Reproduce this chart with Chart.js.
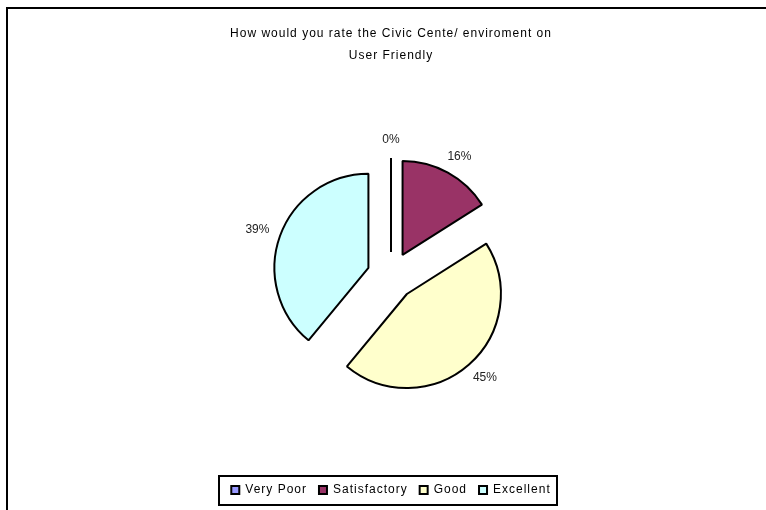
<!DOCTYPE html>
<html>
<head>
<meta charset="utf-8">
<script src="https://cdn.jsdelivr.net/npm/chart.js@4.4.1/dist/chart.umd.min.js"></script>
<style>
    html, body { margin: 0; padding: 0; background: #fff; overflow: hidden; }
    canvas { display: block; }
</style>
</head>
<body>
<canvas id="torta" width="766" height="510"></canvas>
<script>
// ─────────────────────────────────────────────
//  Encuesta Civic Centre – torta explotada
// ─────────────────────────────────────────────

const categorias  = ['Very Poor', 'Satisfactory', 'Good', 'Excellent'];
const porcentajes = [0, 16, 45, 39];
const colores     = ['#9999FF', '#993366', '#FFFFCC', '#CCFFFF'];
const titulo      = ['How would you rate the Civic Cente/ enviroment on', 'User Friendly'];

const RADIO     = 94;   // radio de cada porción (px)
const EXPLOSION = 24;   // cuánto se separa cada porción del centro (px)
const FUENTE    = "'Liberation Sans', Arial, sans-serif";

// Chart.js v4 traslada el arco offset/4, le agranda el radio y le recorta
// un poco el ángulo; acá se compensa para que todas queden del mismo tamaño.
const corregirArcos = {
    id: 'corregirArcos',
    afterDatasetsUpdate(chart) {
        chart.getDatasetMeta(0).data.forEach(arco => {
            const desplaz = (arco.options.offset || 0) / 4;
            const fix = 1 - Math.sin(Math.min(Math.PI, arco.circumference || 0));
            const extraRadio = desplaz * fix;
            arco.outerRadius = RADIO - extraRadio;
            if (arco.circumference > 0) {
                const recorte = extraRadio / (2 * Math.PI * RADIO);
                arco.startAngle -= recorte;
                arco.endAngle   += recorte;
            }
        });
    },
    beforeDatasetsDraw(chart) {
        chart.ctx.letterSpacing = '0px';
    }
};

// texto espaciado como en la planilla original (título y leyenda)
const espaciado = {
    id: 'espaciado',
    beforeLayout(chart) { chart.ctx.letterSpacing = '1px'; },
    beforeDraw(chart)   { chart.ctx.letterSpacing = '1px'; }
};

// porcentajes afuera de cada porción + la porción de 0% como una línea
const etiquetas = {
    id: 'etiquetas',
    afterDatasetsDraw(chart) {
        const ctx = chart.ctx;
        ctx.save();
        ctx.letterSpacing = '0px';
        ctx.font = '12px ' + FUENTE;
        ctx.fillStyle = '#222';
        ctx.textAlign = 'center';
        ctx.textBaseline = 'middle';

        chart.getDatasetMeta(0).data.forEach((arco, i) => {
            const medio = (arco.startAngle + arco.endAngle) / 2;
            const dx = Math.cos(medio), dy = Math.sin(medio);
            const cx = arco.x + dx * EXPLOSION;
            const cy = arco.y + dy * EXPLOSION;

            if (porcentajes[i] === 0) {
                ctx.save();
                ctx.strokeStyle = '#000';
                ctx.lineWidth = 2;
                ctx.beginPath();
                ctx.moveTo(cx, cy);
                ctx.lineTo(cx + dx * RADIO, cy + dy * RADIO);
                ctx.stroke();
                ctx.restore();
            }

            const texto = porcentajes[i] + '%';
            const ancho = ctx.measureText(texto).width;
            const x = cx + dx * (RADIO + 12) + dx * ancho / 2;
            const y = cy + dy * (RADIO + 12) + dy * 6;
            ctx.fillText(texto, x, y);
        });
        ctx.restore();
    }
};

// marco exterior y recuadro de la leyenda
const marcos = {
    id: 'marcos',
    afterDraw(chart) {
        const ctx = chart.ctx;
        ctx.save();
        ctx.fillStyle = '#000';
        ctx.fillRect(6, 7, 2, chart.height);
        ctx.fillRect(6, 7, chart.width, 2);

        const cajas = chart.legend.legendHitBoxes;
        if (cajas && cajas.length) {
            const primera = cajas[0];
            const ultima  = cajas[cajas.length - 1];
            const medioY  = primera.top + primera.height / 2;
            const x0 = Math.round(primera.left - 12);
            const x1 = Math.round(ultima.left + ultima.width + 6);
            const y0 = Math.round(medioY - 14);
            const y1 = Math.round(medioY + 15);
            ctx.strokeStyle = '#000';
            ctx.lineWidth = 2;
            ctx.strokeRect(x0, y0, x1 - x0, y1 - y0);
        }
        ctx.restore();
    }
};

new Chart(document.getElementById('torta'), {
    type: 'pie',
    data: {
        labels: categorias,
        datasets: [{
            data: porcentajes,
            backgroundColor: colores,
            borderColor: '#000',
            borderWidth: 2,
            offset: EXPLOSION * 4,
            hoverOffset: 0,
        }]
    },
    options: {
        responsive: false,
        animation: false,
        events: [],
        radius: RADIO,
        layout: { padding: { left: 16, right: 0, top: 0, bottom: 4 } },
        plugins: {
            title: {
                display: true,
                text: titulo,
                color: '#000',
                font: { family: FUENTE, size: 12, weight: 'normal', lineHeight: 22 / 12 },
                padding: { top: 23, bottom: 13 },
            },
            legend: {
                position: 'bottom',
                labels: {
                    color: '#000',
                    font: { family: FUENTE, size: 12 },
                    boxWidth: 8,
                    boxHeight: 8,
                    padding: 12,
                }
            },
            tooltip: { enabled: false }
        }
    },
    plugins: [espaciado, corregirArcos, etiquetas, marcos]
});
</script>
</body>
</html>
